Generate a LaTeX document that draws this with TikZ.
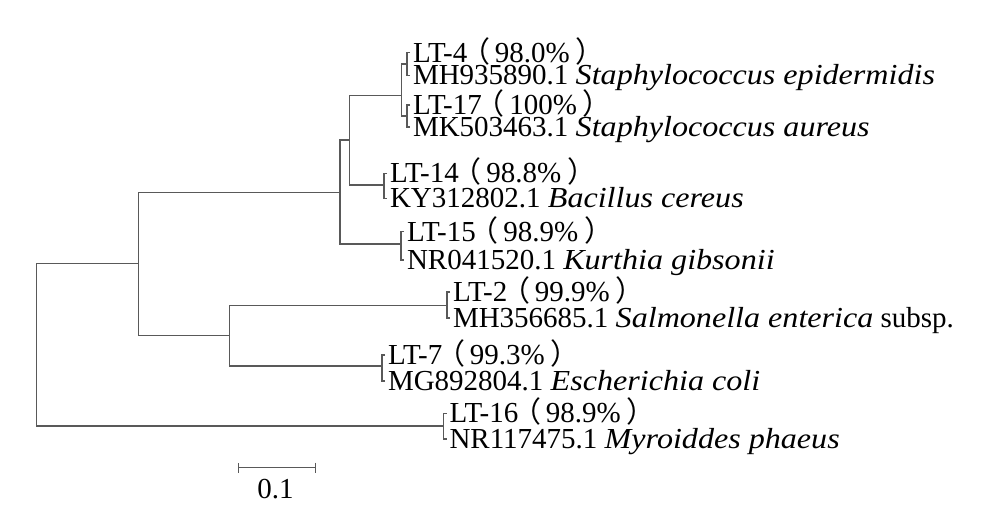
\documentclass[tikz,border=0pt]{standalone}
\usepackage{fontspec}
\setmainfont{Liberation Serif}
\newfontfamily\cjk{Noto Sans CJK SC}
\newfontfamily\spfont[FakeStretch=1.107]{Liberation Serif}
\usetikzlibrary{arrows.meta}
\newcommand\lpar{\makebox[0.95em][r]{{\cjk （}\hspace{0.15em}}}
\newcommand\rpar{\makebox[0.95em][l]{\hspace{0.2em}{\cjk ）}}}
\newcommand\spname[1]{{\spfont\itshape #1}}

\begin{document}
\begin{tikzpicture}
		[x=0.5pt,y=-0.5pt,
		 every node/.style={font=\fontsize{14.5}{17}\selectfont},
		 leaf/.style={anchor=west,inner sep=0pt,outer sep=1.5pt,text height=9.6pt,text depth=0pt},
		 br/.style={draw=black!65,line width=0.6pt}]

		\useasboundingbox (0,0) rectangle (1003,528);

		% leaves
		\node[leaf] (lt4)   at (410,52.5)  {LT-4\lpar 98.0\%\rpar};
		\node[leaf] (mh935) at (410,75.3)  {MH935890.1 \spname{Staphylococcus epidermidis}};
		\node[leaf] (lt17)  at (410,105)   {LT-17\lpar 100\%\rpar};
		\node[leaf] (mk503) at (410,127)   {MK503463.1 \spname{Staphylococcus aureus}};
		\node[leaf] (lt14)  at (387,173.3) {LT-14\lpar 98.8\%\rpar};
		\node[leaf] (ky312) at (387,198.3) {KY312802.1 \spname{Bacillus cereus}};
		\node[leaf] (lt15)  at (404,231.7) {LT-15\lpar 98.9\%\rpar};
		\node[leaf] (nr041) at (404,260)   {NR041520.1 \spname{Kurthia gibsonii}};
		\node[leaf] (lt2)   at (450,292)   {LT-2\lpar 99.9\%\rpar};
		\node[leaf] (mh356) at (450,318)   {MH356685.1 \spname{Salmonella enterica} subsp.};
		\node[leaf] (lt7)   at (385,355)   {LT-7\lpar 99.3\%\rpar};
		\node[leaf] (mg892) at (385,381)   {MG892804.1 \spname{Escherichia coli}};
		\node[leaf] (lt16)  at (446.5,413.3) {LT-16\lpar 98.9\%\rpar};
		\node[leaf] (nr117) at (446.5,439) {NR117475.1 \spname{Myroiddes phaeus}};

		% inner nodes
		\coordinate (n4)  at (407,64);
		\coordinate (n17) at (407,116);
		\coordinate (n14) at (384,185);
		\coordinate (n15) at (401,244);
		\coordinate (n2)  at (447,305.5);
		\coordinate (n7)  at (382,366);
		\coordinate (n16) at (443.5,426);
		\coordinate (nD)  at (401.5,95.7);
		\coordinate (nC)  at (349.5,140);
		\coordinate (nB)  at (340,192.7);
		\coordinate (nE)  at (229.7,335.7);
		\coordinate (nA)  at (138.3,263.7);
		\coordinate (nR)  at (36.7,344.7);

		\draw[br] (lt4.west)  -| (n4)  |- (mh935.west);
		\draw[br] (lt17.west) -| (n17) |- (mk503.west);
		\draw[br] (lt14.west) -| (n14) |- (ky312.west);
		\draw[br] (lt15.west) -| (n15) |- (nr041.west);
		\draw[br] (lt2.west)  -| (n2)  |- (mh356.west);
		\draw[br] (lt7.west)  -| (n7)  |- (mg892.west);
		\draw[br] (lt16.west) -| (n16) |- (nr117.west);

		\draw[br] (n4) -| (nD) |- (n17);
		\draw[br] (nD) -| (nC) |- (n14);
		\draw[br] (nC) -| (nB) |- (n15);
		\draw[br] (nB) -| (nA) |- (nE);
		\draw[br] (n2) -| (nE) |- (n7);
		\draw[br] (nA) -| (nR) |- (n16);

		% scale bar
		\coordinate (s0) at (237.5,467.7);
		\coordinate (s1) at (316,467.7);
		\draw[br,{Bar[width=5pt]}-{Bar[width=5pt]}] (s0) -- (s1);
		\node[anchor=base] (scale) at (275.5,498.3) {0.1};

	\end{tikzpicture}
\end{document}
